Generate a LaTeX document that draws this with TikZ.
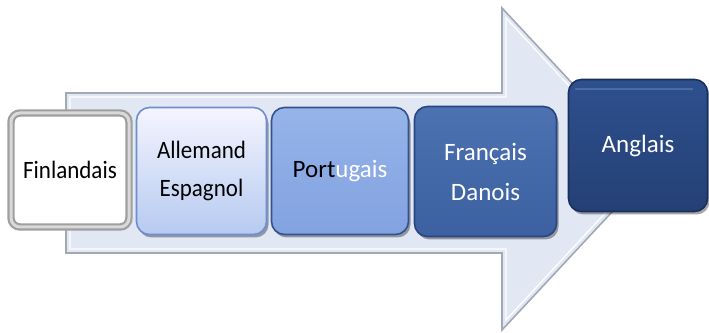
\documentclass[tikz,border=0pt]{standalone}
\usepackage{fontspec}
\setmainfont{Carlito}
\newfontfamily\narrowf{Carlito}[FakeStretch=0.92]
\usetikzlibrary{shadows}
\definecolor{arrowfill}{HTML}{E2E7F4}
\definecolor{arrowline}{HTML}{A3A8B5}
\tikzset{
  x=1pt,y=1pt,
  box/.style={rounded corners=13pt, line width=1.6pt, align=center, inner sep=0pt,
    font=\fontsize{25}{40}\selectfont,
    drop shadow={shadow xshift=2pt, shadow yshift=-3pt, opacity=0.35, fill=black}},
  narrowtext/.style={font=\narrowf\fontsize{25}{38}\selectfont},
}
\begin{document}
\begin{tikzpicture}
\useasboundingbox (0,0) rectangle (709,332);
% big arrow
\draw[line width=1.6pt, draw=arrowline, fill=arrowfill, line join=miter]
  (66,239) -- (502,239) -- (502,324) -- (652,163) -- (502,2) -- (502,79) -- (66,79) -- cycle;
\draw[line width=1.2pt, draw=white, line join=miter]
  (70,235) -- (506,235) -- (506,314) -- (646,163) -- (506,12) -- (506,83) -- (70,83) -- cycle;
\fill[arrowfill] (74,231) -- (510,231) -- (510,304) -- (640,163) -- (510,22) -- (510,87) -- (74,87) -- cycle;
% boxes
\node[box, narrowtext, minimum width=118pt, minimum height=114pt, fill=white, draw=gray!75,
  line width=2.2pt, double=gray!30, double distance=3pt, rounded corners=9pt] (fin) at (70,162) {Finlandais};
\node[box, narrowtext, minimum width=130pt, minimum height=127pt, top color=blue!4!white, bottom color={rgb,255:red,182;green,202;blue,240},
  draw={rgb,255:red,110;green,142;blue,208}] (all) at (201.5,161) {Allemand\\Espagnol};
\node[box, minimum width=137pt, minimum height=127pt, top color={rgb,255:red,150;green,180;blue,234},
  bottom color={rgb,255:red,130;green,162;blue,224},
  draw={rgb,255:red,52;green,82;blue,140}] (por) at (340,161) {Port\textcolor{white}{ugais}};
\node[box, minimum width=142pt, minimum height=130pt, top color={rgb,255:red,76;green,114;blue,178},
  bottom color={rgb,255:red,60;green,96;blue,160},
  draw={rgb,255:red,40;green,70;blue,130}, text=white] (fra) at (485.5,160.5) {Français\\Danois};
\node[box, minimum width=139pt, minimum height=132pt, top color={rgb,255:red,46;green,80;blue,142},
  bottom color={rgb,255:red,36;green,64;blue,118},
  draw={rgb,255:red,26;green,48;blue,92}, text=white] (ang) at (638,186.5) {Anglais};
\draw[line width=2pt, line cap=round, draw={rgb,255:red,90;green,120;blue,175}, opacity=0.7]
  ([xshift=8pt,yshift=-10pt]ang.north west) -- ([xshift=-16pt,yshift=-10pt]ang.north east);
\end{tikzpicture}
\end{document}
